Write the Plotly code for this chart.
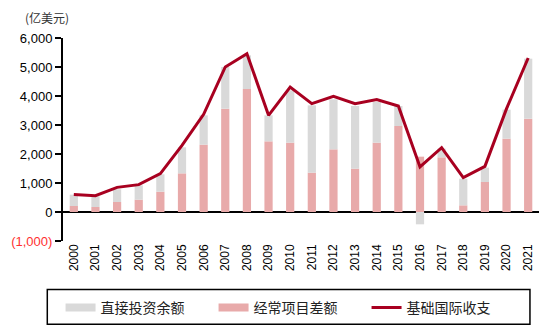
import plotly.graph_objects as go

years = [str(y) for y in range(2000, 2022)]
current_account = [207, 172, 345, 425, 701, 1333, 2322, 3563, 4241, 2437, 2391, 1356, 2161, 1494, 2391, 2966, 1908, 1885, 230, 1034, 2529, 3218]
direct_invest = [391, 368, 437, 495, 598, 897, 1011, 1437, 1161, 896, 1804, 2322, 1724, 2161, 1402, 689, -425, 299, 919, 495, 1000, 2069]
basic_bop = [600, 560, 850, 943, 1322, 2299, 3368, 5000, 5460, 3333, 4310, 3736, 3989, 3736, 3874, 3655, 1552, 2218, 1184, 1575, 3563, 5310]

tick_vals = [-1000, 0, 1000, 2000, 3000, 4000, 5000, 6000]
tick_text = ['<span style="color:#ff3030">(1,000)</span>', '0', '1,000', '2,000', '3,000', '4,000', '5,000', '6,000']

gray = '#d9d9d9'
pink = '#e8aaaa'
red = '#a80020'

fig = go.Figure()
fig.add_trace(go.Bar(x=years, y=current_account, marker_color=pink, marker_line_width=0,
                     showlegend=False, width=0.38))
fig.add_trace(go.Bar(x=years, y=direct_invest, marker_color=gray, marker_line_width=0,
                     showlegend=False, width=0.38))
fig.add_trace(go.Scatter(x=years, y=basic_bop, mode='lines', line=dict(color=red, width=3),
                         showlegend=False))
# legend entries
fig.add_trace(go.Scatter(x=[None], y=[None], mode='lines', line=dict(color=gray, width=8), name='直接投资余额'))
fig.add_trace(go.Scatter(x=[None], y=[None], mode='lines', line=dict(color=pink, width=8), name='经常项目差额'))
fig.add_trace(go.Scatter(x=[None], y=[None], mode='lines', line=dict(color=red, width=3), name='基础国际收支'))

fig.update_layout(
    barmode='relative',
    width=550, height=335,
    margin=dict(l=59, r=11, t=38, b=92),
    paper_bgcolor='white', plot_bgcolor='white',
    font=dict(family='Liberation Sans, Arial, sans-serif', size=12, color='#000'),
    legend=dict(orientation='h', x=0.477, xanchor='center', y=-0.33, yanchor='middle',
                font=dict(family='Noto Sans CJK SC', size=14, color='#222'),
                itemwidth=30, entrywidth=108, entrywidthmode='pixels',
                tracegroupgap=0, bgcolor='rgba(0,0,0,0)'),
    shapes=[dict(type='rect', xref='paper', yref='paper', x0=-0.033, x1=0.981, y0=-0.41, y1=-0.239,
                 line=dict(color='black', width=1.5), fillcolor='rgba(0,0,0,0)')],
    annotations=[dict(text='(亿美元)', xref='paper', yref='paper', x=-0.083, y=1.10,
                      xanchor='left', yanchor='middle', showarrow=False,
                      font=dict(family='Noto Sans CJK SC', size=12, color='#333'))],
)
fig.update_xaxes(type='category', tickangle=-90, showline=False, ticks='', showgrid=False,
                 tickfont=dict(size=12), range=[-0.5, 21.5])
fig.update_yaxes(range=[-1000, 6000], tickvals=tick_vals, ticktext=tick_text, showgrid=False,
                 showline=True, linecolor='black', linewidth=2, ticks='outside', ticklen=6,
                 tickwidth=2, tickcolor='black', zeroline=True, zerolinecolor='black', zerolinewidth=2,
                 tickfont=dict(size=13))

fig.write_html('out.html')
